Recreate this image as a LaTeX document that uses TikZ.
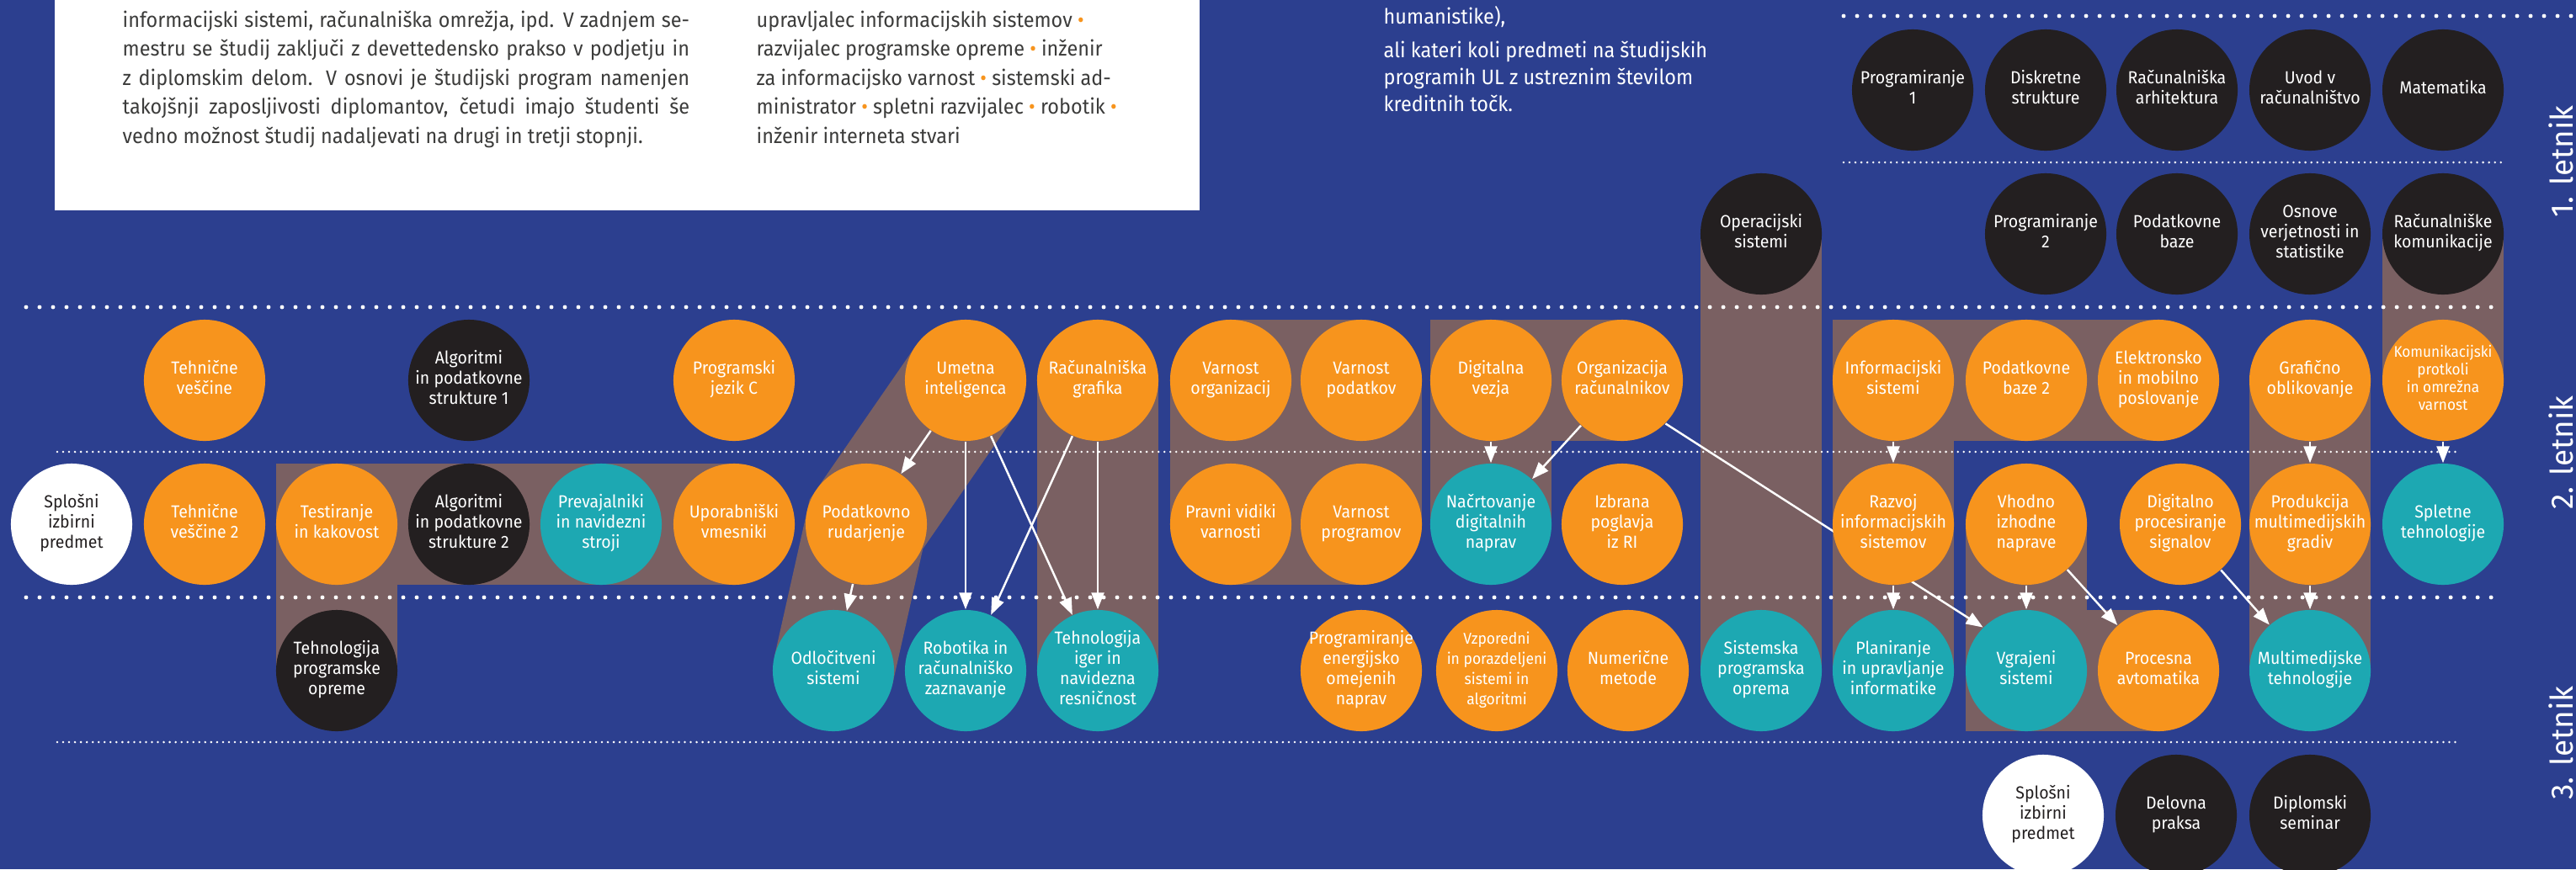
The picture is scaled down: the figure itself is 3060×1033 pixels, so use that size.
\documentclass[tikz,border=0pt]{standalone}
\usepackage{fontspec}
\setmainfont{Fira Sans}[FakeStretch=0.94]
\newfontfamily\yearfont{Fira Sans}
\usepackage{tikz}
\usetikzlibrary{arrows.meta, backgrounds, positioning}

\definecolor{cbg}{HTML}{2C3F8F}
\definecolor{corange}{HTML}{F7941D}
\definecolor{cteal}{HTML}{1DA8B2}
\definecolor{cblack}{HTML}{231F20}
\definecolor{cbrown}{HTML}{7A6062}
\definecolor{ctext}{HTML}{3C3C3B}

\newcommand\circfont{\fontsize{5.9}{6.8}\selectfont}
\newcommand\vzfont{\fontsize{5.3}{6.8}\selectfont}
\newcommand\kpfont{\fontsize{5.2}{6.0}\selectfont}
\newcommand\introfont{\fontsize{7.1}{9.8}\selectfont}
\newcommand\notefont{\fontsize{7.1}{9.1}\selectfont}
\newcommand\crs[1]{\makebox[0pt]{\begin{tabular}{@{}c@{}}#1\end{tabular}}}
\newcommand\jline[1]{\makebox[6.73cm][s]{#1}}
\newcommand\obul{\textcolor{corange}{•}}

\begin{document}
\begin{tikzpicture}[x=0.01cm, y=-0.01cm]
\tikzstyle{course}=[circle, minimum size=1.44cm, inner sep=0, text=white, font=\circfont]
\tikzstyle{req}=[course, fill=cblack]
\tikzstyle{opt}=[course, fill=corange]
\tikzstyle{mod}=[course, fill=cteal]
\tikzstyle{free}=[course, fill=white, text=cblack]
\tikzstyle{band}=[cbrown, line width=1.44cm, line join=miter]
\tikzstyle{connect}=[-{Triangle[length=0.2cm, width=0.15cm]}, white, line width=0.7pt]
\tikzstyle{bigdots}=[white, line width=1.4pt, line cap=round, dash pattern=on 0pt off 4.55pt]
\tikzstyle{smalldots}=[white, line width=0.8pt, line cap=round, dash pattern=on 0pt off 2pt]
\tikzstyle{intro}=[anchor=base west, inner sep=0, align=left, font=\introfont]
\tikzstyle{year}=[rotate=90, text=white, font=\yearfont\fontsize{10.5}{12}\selectfont]
\useasboundingbox (0,0) rectangle (3060,1033);
\begin{pgfonlayer}{background}
\fill[cbg] (0,0) rectangle (3060,1033);
\fill[white] (65,0) rectangle (1425,250);
\end{pgfonlayer}

\node[intro, text=ctext] (about) at (145, 170.1) {\jline{informacijski sistemi, računalniška omrežja, ipd. V zadnjem se-}\\
\jline{mestru se študij zaključi z devettedensko prakso v podjetju in}\\
\jline{z diplomskim delom. V osnovi je študijski program namenjen}\\
\jline{takojšnji zaposljivosti diplomantov, četudi imajo študenti še}\\
vedno možnost študij nadaljevati na drugi in tretji stopnji.};
\node[intro, text=ctext] (jobs) at (898, 170.1) {upravljalec informacijskih sistemov \obul\\
razvijalec programske opreme \obul{} inženir\\
za informacijsko varnost \obul{} sistemski ad-\\
ministrator \obul{} spletni razvijalec \obul{} robotik \obul\\
inženir interneta stvari};
\node[intro, text=white, font=\notefont] (elect) at (1643, 132) {humanistike),\\[2pt]
ali kateri koli predmeti na študijskih\\
programih UL z ustreznim številom\\
kreditnih točk.};

\node[year] (y1) at (3042, 192) {1. letnik};
\node[year] (y2) at (3042, 538) {2. letnik};
\node[year] (y3) at (3042, 883) {3. letnik};

\node[req] (p1) at (2272, 107) {\crs{Programiranje\\1}};
\node[req] (dstr) at (2430, 107) {\crs{Diskretne\\strukture}};
\node[req] (rarh) at (2586, 107) {\crs{Računalniška\\arhitektura}};
\node[req] (uvod) at (2744, 107) {\crs{Uvod v\\računalništvo}};
\node[req] (mat) at (2902, 107) {\crs{Matematika}};
\node[req] (os) at (2092, 278) {\crs{Operacijski\\sistemi}};
\node[req] (p2) at (2430, 278) {\crs{Programiranje\\2}};
\node[req] (pb) at (2586, 278) {\crs{Podatkovne\\baze}};
\node[req] (ovs) at (2744, 278) {\crs{Osnove\\verjetnosti in\\statistike}};
\node[req] (rk) at (2902, 278) {\crs{Računalniške\\komunikacije}};

\node[opt] (tv) at (243, 452) {\crs{Tehnične\\veščine}};
\node[req] (aps1) at (557, 452) {\crs{Algoritmi\\in podatkovne\\strukture 1}};
\node[opt] (pjc) at (872, 452) {\crs{Programski\\jezik C}};
\node[opt] (ui) at (1147, 452) {\crs{Umetna\\inteligenca}};
\node[opt] (rg) at (1304, 452) {\crs{Računalniška\\grafika}};
\node[opt] (vo) at (1462, 452) {\crs{Varnost\\organizacij}};
\node[opt] (vp) at (1617, 452) {\crs{Varnost\\podatkov}};
\node[opt] (dv) at (1771, 452) {\crs{Digitalna\\vezja}};
\node[opt] (orr) at (1927, 452) {\crs{Organizacija\\računalnikov}};
\node[opt] (is) at (2249, 452) {\crs{Informacijski\\sistemi}};
\node[opt] (pb2) at (2407, 452) {\crs{Podatkovne\\baze 2}};
\node[opt] (emp) at (2564, 452) {\crs{Elektronsko\\in mobilno\\poslovanje}};
\node[opt] (go) at (2744, 452) {\crs{Grafično\\oblikovanje}};
\node[opt, font=\kpfont] (kpo) at (2902, 452) {\crs{Komunikacijski\\protkoli\\in omrežna\\varnost}};

\node[free] (siz2) at (85, 623) {\crs{Splošni\\izbirni\\predmet}};
\node[opt] (tv2) at (243, 623) {\crs{Tehnične\\veščine 2}};
\node[opt] (tik) at (400, 623) {\crs{Testiranje\\in kakovost}};
\node[req] (aps2) at (557, 623) {\crs{Algoritmi\\in podatkovne\\strukture 2}};
\node[mod] (pns) at (714, 623) {\crs{Prevajalniki\\in navidezni\\stroji}};
\node[opt] (uv) at (872, 623) {\crs{Uporabniški\\vmesniki}};
\node[opt] (pr) at (1029, 623) {\crs{Podatkovno\\rudarjenje}};
\node[opt] (pvv) at (1462, 623) {\crs{Pravni vidiki\\varnosti}};
\node[opt] (vpr) at (1617, 623) {\crs{Varnost\\programov}};
\node[mod] (ndn) at (1771, 623) {\crs{Načrtovanje\\digitalnih\\naprav}};
\node[opt] (ipr) at (1927, 623) {\crs{Izbrana\\poglavja\\iz RI}};
\node[opt] (ris) at (2249, 623) {\crs{Razvoj\\informacijskih\\sistemov}};
\node[opt] (vin) at (2407, 623) {\crs{Vhodno\\izhodne\\naprave}};
\node[opt] (dps) at (2590, 623) {\crs{Digitalno\\procesiranje\\signalov}};
\node[opt] (pmg) at (2744, 623) {\crs{Produkcija\\multimedijskih\\gradiv}};
\node[mod] (st) at (2902, 623) {\crs{Spletne\\tehnologije}};

\node[req] (tpo) at (400, 797) {\crs{Tehnologija\\programske\\opreme}};
\node[mod] (ods) at (990, 797) {\crs{Odločitveni\\sistemi}};
\node[mod] (rob) at (1147, 797) {\crs{Robotika in\\računalniško\\zaznavanje}};
\node[mod] (tig) at (1304, 797) {\crs{Tehnologija\\iger in\\navidezna\\resničnost}};
\node[opt] (peon) at (1617, 797) {\crs{Programiranje\\energijsko\\omejenih\\naprav}};
\node[opt, font=\vzfont] (vps) at (1778, 797) {\crs{Vzporedni\\in porazdeljeni\\sistemi in\\algoritmi}};
\node[opt] (nm) at (1934, 797) {\crs{Numerične\\metode}};
\node[mod] (spo) at (2092, 797) {\crs{Sistemska\\programska\\oprema}};
\node[mod] (pui) at (2249, 797) {\crs{Planiranje\\in upravljanje\\informatike}};
\node[mod] (vs) at (2407, 797) {\crs{Vgrajeni\\sistemi}};
\node[opt] (pa) at (2564, 797) {\crs{Procesna\\avtomatika}};
\node[mod] (mt) at (2744, 797) {\crs{Multimedijske\\tehnologije}};

\node[free] (siz3) at (2427, 969) {\crs{Splošni\\izbirni\\predmet}};
\node[req] (dp) at (2585, 969) {\crs{Delovna\\praksa}};
\node[req] (dsem) at (2744, 969) {\crs{Diplomski\\seminar}};

\begin{scope}[on background layer]
\draw[band] (tpo.center) -- (tik.center) -- (uv.center);
\draw[band] (ui.center) -- (pr.center) -- (ods.center);
\draw[band] (rg.center) -- (tig.center);
\filldraw[band, fill=cbrown, line join=round] (vo.center) -- (vp.center) -- (vpr.center) -- (pvv.center) -- cycle;
\draw[band] (orr.center) -- (dv.center) -- (ndn.center);
\draw[band] (os.center) -- (spo.center);
\draw[band] (rk.center) -- (kpo.center);
\draw[band] (emp.center) -- (is.center) -- (pui.center);
\draw[band] (vin.center) -- (vs.center) -- (pa.center);
\draw[band] (go.center) -- (mt.center);

\draw[bigdots] (2190, 19) -- (3060, 19);
\draw[smalldots] (2190, 193) -- (2972, 193);
\draw[bigdots] (31, 365) -- (2972, 365);
\draw[smalldots] (68, 537) -- (2921, 537);
\draw[bigdots] (31, 710) -- (2972, 710);
\draw[smalldots] (68, 882) -- (2921, 882);

\path (ui) edge [connect] (pr);
\path (ui) edge [connect] (rob);
\path (ui) edge [connect] (tig);
\path (rg) edge [connect] (rob);
\path (rg) edge [connect] (tig);
\path (pr) edge [connect] (ods);
\path (dv) edge [connect] (ndn);
\path (orr) edge [connect] (ndn);
\path (orr.-45) edge [connect] (vs.135);
\path (is) edge [connect] (ris);
\path (ris) edge [connect] (pui);
\path (vin) edge [connect] (vs);
\path (vin) edge [connect] (pa);
\path (dps) edge [connect] (mt);
\path (go) edge [connect] (pmg);
\path (pmg) edge [connect] (mt);
\path (kpo) edge [connect] (st);
\end{scope}
\end{tikzpicture}
\end{document}
